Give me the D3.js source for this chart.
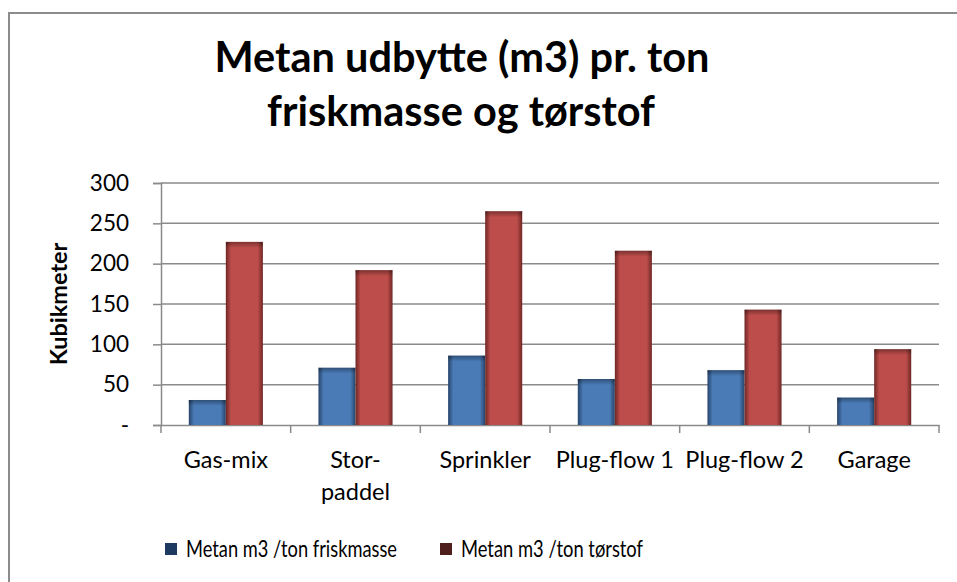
<!DOCTYPE html>
<html>
<head>
<meta charset="utf-8">
<script src="https://cdn.jsdelivr.net/npm/d3@7"></script>
<style>
  body { margin: 0; background: #fff; }
  text { font-family: Lato, "Open Sans", sans-serif; fill: #000; }
</style>
</head>
<body>
<div id="chart"></div>
<script>
const categories = ["Gas-mix", "Stor-paddel", "Sprinkler", "Plug-flow 1", "Plug-flow 2", "Garage"];
const tickLabels = ["Gas-mix", "Stor-\npaddel", "Sprinkler", "Plug-flow 1", "Plug-flow 2", "Garage"];
const friskmasse = [31, 71, 86, 57, 68, 34];
const torstof = [227, 192, 265, 216, 143, 94];
const seriesNames = ["Metan m3 /ton friskmasse", "Metan m3 /ton tørstof"];
const yTicks = [0, 50, 100, 150, 200, 250, 300];

const width = 957;
const height = 582;
const margin = { top: 183, left: 161, bottom: 157, right: 18 };
const iwidth = width - margin.left - margin.right;
const iheight = height - margin.top - margin.bottom;

const svg = d3.select("#chart").append("svg")
  .attr("width", width)
  .attr("height", height);

const defs = svg.append("defs");
function barGradient(id, edge, mid) {
  const g = defs.append("linearGradient").attr("id", id)
    .attr("x1", 0).attr("x2", 1).attr("y1", 0).attr("y2", 0);
  g.append("stop").attr("offset", "0%").attr("stop-color", edge);
  g.append("stop").attr("offset", "14%").attr("stop-color", mid);
  g.append("stop").attr("offset", "86%").attr("stop-color", mid);
  g.append("stop").attr("offset", "100%").attr("stop-color", edge);
}
barGradient("gBlue", "#27446a", "#4a7bb7");
barGradient("gRed", "#6e2725", "#bd4d4a");
const topShade = defs.append("linearGradient").attr("id", "gTop")
  .attr("x1", 0).attr("x2", 0).attr("y1", 0).attr("y2", 1);
topShade.append("stop").attr("offset", "0").attr("stop-color", "#000").attr("stop-opacity", 0.35);
topShade.append("stop").attr("offset", "1").attr("stop-color", "#000").attr("stop-opacity", 0);

// outer chart frame
svg.append("rect")
  .attr("x", 9).attr("y", 13)
  .attr("width", 970).attr("height", 600)
  .attr("fill", "none")
  .attr("stroke", "#8c8c8c")
  .attr("stroke-width", 2);

// title
const title = svg.append("text")
  .attr("text-anchor", "middle")
  .style("font-size", "41.5px")
  .style("font-weight", "bold");
title.append("tspan").attr("x", 462).attr("y", 72).text("Metan udbytte (m3) pr. ton");
title.append("tspan").attr("x", 461).attr("y", 126).text("friskmasse og tørstof");

const g = svg.append("g").attr("transform", `translate(${margin.left},${margin.top})`);

const y = d3.scaleLinear()
  .domain([0, 300])
  .range([iheight, 0]);

const x0 = d3.scaleBand()
  .domain(categories)
  .range([0, iwidth])
  .padding(0);

const x1 = d3.scaleBand()
  .domain([0, 1])
  .range([0, x0.bandwidth()])
  .paddingInner(0)
  .paddingOuter(0.75);

// gridlines
g.append("g")
  .selectAll("line")
  .data(yTicks.slice(1))
  .enter().append("line")
  .attr("x1", 0).attr("x2", iwidth)
  .attr("y1", d => y(d)).attr("y2", d => y(d))
  .attr("stroke", "#8a8a8a")
  .attr("stroke-width", 1.5);

// y axis
const yAxis = g.append("g")
  .call(d3.axisLeft(y).tickValues(yTicks).tickSize(8).tickPadding(24)
    .tickFormat(d => d === 0 ? "-" : d));
yAxis.select(".domain").attr("stroke", "#8a8a8a").attr("stroke-width", 1.5);
yAxis.selectAll(".tick line").attr("stroke", "#8a8a8a").attr("stroke-width", 1.5);
yAxis.selectAll(".tick text").style("font-size", "22.5px").attr("fill", "#000");

// x axis
const xAxis = g.append("g")
  .attr("transform", `translate(0,${iheight})`)
  .call(d3.axisBottom(x0).tickSize(0).tickFormat(""));
xAxis.select(".domain").attr("stroke", "#8a8a8a").attr("stroke-width", 1.5);
xAxis.selectAll(".tick").remove();
xAxis.selectAll(".sep")
  .data(d3.range(categories.length + 1))
  .enter().append("line")
  .attr("x1", i => i * x0.step()).attr("x2", i => i * x0.step())
  .attr("y1", 0).attr("y2", 8)
  .attr("stroke", "#8a8a8a").attr("stroke-width", 1.5);

const labels = g.append("g").selectAll("text")
  .data(categories)
  .enter().append("text")
  .attr("text-anchor", "middle")
  .style("font-size", "23.5px");
labels.each(function (d, i) {
  const lines = tickLabels[i].split("\n");
  lines.forEach((ln, j) => {
    d3.select(this).append("tspan")
      .attr("x", x0(d) + x0.bandwidth() / 2)
      .attr("y", iheight + 43 + j * 32)
      .text(ln);
  });
});

// y axis title
g.append("text")
  .attr("transform", `translate(-102,${iheight / 2}) rotate(-90)`)
  .attr("text-anchor", "middle")
  .attr("dy", "0.35em")
  .style("font-size", "23.5px")
  .style("font-weight", "bold")
  .text("Kubikmeter");

// bars
const rows = categories.map((c, i) => ({ cat: c, vals: [friskmasse[i], torstof[i]] }));
const fills = ["url(#gBlue)", "url(#gRed)"];
const groups = g.selectAll(".grp")
  .data(rows)
  .enter().append("g")
  .attr("class", "grp")
  .attr("transform", d => `translate(${x0(d.cat)},0)`);

groups.selectAll(".bar")
  .data(d => d.vals.map((v, k) => ({ k, v })))
  .enter().append("rect")
  .attr("class", "bar")
  .attr("x", d => x1(d.k))
  .attr("y", d => y(d.v))
  .attr("width", x1.bandwidth())
  .attr("height", d => iheight - y(d.v))
  .attr("fill", d => fills[d.k]);

groups.selectAll(".shade")
  .data(d => d.vals.map((v, k) => ({ k, v })))
  .enter().append("rect")
  .attr("class", "shade")
  .attr("x", d => x1(d.k))
  .attr("y", d => y(d.v))
  .attr("width", x1.bandwidth())
  .attr("height", d => Math.min(6, iheight - y(d.v)))
  .attr("fill", "url(#gTop)");

// legend (text squeezed a bit to mimic the narrower original font)
const legendColors = ["#1f3a60", "#4f1f1d"];
const legendX = [165, 440];
const legendW = [211, 182];
const legend = svg.append("g").selectAll("g")
  .data(seriesNames)
  .enter().append("g")
  .attr("transform", (d, i) => `translate(${legendX[i]},543)`);
legend.append("rect")
  .attr("width", 12).attr("height", 12)
  .attr("fill", (d, i) => legendColors[i]);
legend.append("text")
  .attr("x", 21).attr("y", 6)
  .attr("dy", "0.35em")
  .attr("textLength", (d, i) => legendW[i])
  .attr("lengthAdjust", "spacingAndGlyphs")
  .style("font-size", "23px")
  .text(d => d);
</script>
</body>
</html>
